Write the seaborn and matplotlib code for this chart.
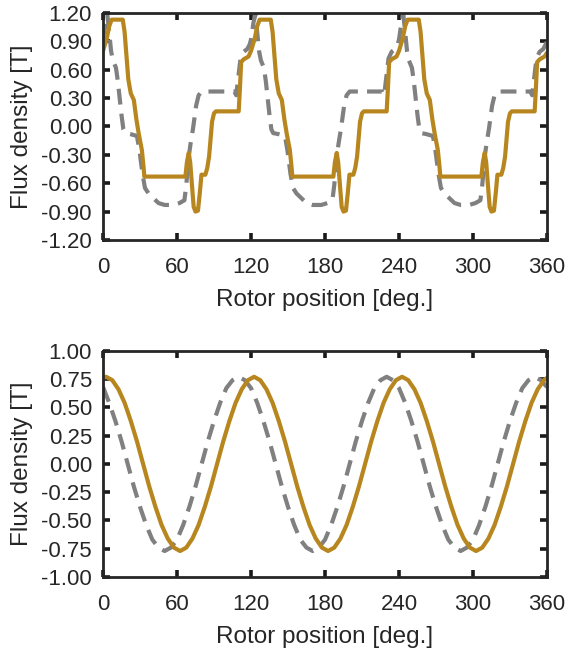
import matplotlib
matplotlib.use("Agg")
import matplotlib.pyplot as plt
import seaborn as sns
from matplotlib.ticker import FormatStrFormatter

# -----------------------------
# Data
# -----------------------------
# top: flux density, full traced waveform (solid) and reference (dashed)
top_solid_deg = [
    0, 3, 5, 7, 16, 17.5, 19, 20.5, 22.5, 25, 27, 29, 31.5, 32.8, 33.5,
    66.8, 68, 69.5, 70.7, 72, 73.5, 75, 77, 78.5, 79.8, 83, 84.5, 86, 88.4, 90, 91.5,
    110, 111, 112, 114, 118,
    120, 123, 125, 127, 136, 137.5, 139, 140.5, 142.5, 145, 147, 149, 151.5, 152.8, 153.5,
    186.8, 188, 189.5, 190.7, 192, 193.5, 195, 197, 198.5, 199.8, 203, 204.5, 206, 208.4, 210, 211.5,
    230, 231, 232, 234, 238,
    240, 243, 245, 247, 256, 257.5, 259, 260.5, 262.5, 265, 267, 269, 271.5, 272.8, 273.5,
    306.8, 308, 309.5, 310.7, 312, 313.5, 315, 317, 318.5, 319.8, 323, 324.5, 326, 328.4, 330, 331.5,
    350, 351, 352, 354, 358,
    360,
]
top_solid_val = [
    0.80, 0.93, 1.06, 1.13, 1.13, 1.00, 0.75, 0.50, 0.35, 0.28, 0.08, -0.08, -0.25, -0.42, -0.53,
    -0.53, -0.38, -0.28, -0.38, -0.60, -0.85, -0.90, -0.89, -0.70, -0.51, -0.51, -0.44, -0.32, 0.05, 0.14, 0.16,
    0.16, 0.40, 0.68, 0.71, 0.74,
    0.80, 0.93, 1.06, 1.13, 1.13, 1.00, 0.75, 0.50, 0.35, 0.28, 0.08, -0.08, -0.25, -0.42, -0.53,
    -0.53, -0.38, -0.28, -0.38, -0.60, -0.85, -0.90, -0.89, -0.70, -0.51, -0.51, -0.44, -0.32, 0.05, 0.14, 0.16,
    0.16, 0.40, 0.68, 0.71, 0.74,
    0.80, 0.93, 1.06, 1.13, 1.13, 1.00, 0.75, 0.50, 0.35, 0.28, 0.08, -0.08, -0.25, -0.42, -0.53,
    -0.53, -0.38, -0.28, -0.38, -0.60, -0.85, -0.90, -0.89, -0.70, -0.51, -0.51, -0.44, -0.32, 0.05, 0.14, 0.16,
    0.16, 0.40, 0.68, 0.71, 0.74,
    0.78,
]
top_dash_deg = [
    0, 2, 3.5, 5, 6.5, 8, 10.5, 12, 13.5, 15, 16.5, 18, 22, 27.5, 29.5, 32, 34, 37, 41, 45, 50, 57, 62, 66,
    67.5, 69.5, 71, 73, 75.5, 77.5, 80, 106.5, 108, 109.5, 111.5, 114, 117, 119,
    120, 122, 123.5, 125, 126.5, 128, 130.5, 132, 133.5, 135, 136.5, 138, 142, 147.5, 149.5, 152, 154, 157,
    161, 165, 170, 177, 182, 186,
    187.5, 189.5, 191, 193, 195.5, 197.5, 200, 226.5, 228, 229.5, 231.5, 234, 237, 239,
    240, 242, 243.5, 245, 246.5, 248, 250.5, 252, 253.5, 255, 256.5, 258, 262, 267.5, 269.5, 272, 274, 277,
    281, 285, 290, 297, 302, 306,
    307.5, 309.5, 311, 313, 315.5, 317.5, 320, 346.5, 348, 349.5, 351.5, 354, 357, 359,
    360,
]
top_dash_val = [
    0.92, 1.10, 1.18, 1.00, 0.80, 0.70, 0.62, 0.48, 0.30, 0.12, -0.03, -0.07, -0.08, -0.10, -0.25, -0.50,
    -0.65, -0.71, -0.76, -0.81, -0.83, -0.83, -0.81, -0.78,
    -0.62, -0.32, -0.18, -0.02, 0.22, 0.33, 0.37, 0.37, 0.33, 0.50, 0.72, 0.79, 0.82, 0.87,
    0.92, 1.10, 1.18, 1.00, 0.80, 0.70, 0.62, 0.48, 0.30, 0.12, -0.03, -0.07, -0.08, -0.10, -0.25, -0.50,
    -0.65, -0.71, -0.76, -0.81, -0.83, -0.83, -0.81, -0.78,
    -0.62, -0.32, -0.18, -0.02, 0.22, 0.33, 0.37, 0.37, 0.33, 0.50, 0.72, 0.79, 0.82, 0.87,
    0.92, 1.10, 1.18, 1.00, 0.80, 0.70, 0.62, 0.48, 0.30, 0.12, -0.03, -0.07, -0.08, -0.10, -0.25, -0.50,
    -0.65, -0.71, -0.76, -0.81, -0.83, -0.83, -0.81, -0.78,
    -0.62, -0.32, -0.18, -0.02, 0.22, 0.33, 0.37, 0.37, 0.33, 0.50, 0.72, 0.79, 0.82, 0.87,
    0.90,
]

# bottom: fundamental component (solid sampled at its peaks, dashed every 5 deg)
bottom_solid_deg = [
    0, 2.5, 7.5, 12.5, 17.5, 22.5, 27.5, 32.5, 37.5, 42.5, 47.5, 52.5, 57.5,
    62.5, 67.5, 72.5, 77.5, 82.5, 87.5, 92.5, 97.5, 102.5, 107.5, 112.5, 117.5,
    122.5, 127.5, 132.5, 137.5, 142.5, 147.5, 152.5, 157.5, 162.5, 167.5, 172.5, 177.5,
    182.5, 187.5, 192.5, 197.5, 202.5, 207.5, 212.5, 217.5, 222.5, 227.5, 232.5, 237.5,
    242.5, 247.5, 252.5, 257.5, 262.5, 267.5, 272.5, 277.5, 282.5, 287.5, 292.5, 297.5,
    302.5, 307.5, 312.5, 317.5, 322.5, 327.5, 332.5, 337.5, 342.5, 347.5, 352.5, 357.5,
    360,
]
bottom_solid = [
    0.76,
    0.77, 0.74, 0.66, 0.54, 0.38, 0.20, 0.00, -0.20, -0.38, -0.54, -0.66, -0.74,
    -0.77, -0.74, -0.66, -0.54, -0.38, -0.20, 0.00, 0.20, 0.38, 0.54, 0.66, 0.74,
    0.77, 0.74, 0.66, 0.54, 0.38, 0.20, 0.00, -0.20, -0.38, -0.54, -0.66, -0.74,
    -0.77, -0.74, -0.66, -0.54, -0.38, -0.20, 0.00, 0.20, 0.38, 0.54, 0.66, 0.74,
    0.77, 0.74, 0.66, 0.54, 0.38, 0.20, 0.00, -0.20, -0.38, -0.54, -0.66, -0.74,
    -0.77, -0.74, -0.66, -0.54, -0.38, -0.20, 0.00, 0.20, 0.38, 0.54, 0.66, 0.74,
    0.76,
]
bottom_dash_deg = [
    0, 5, 10, 15, 20, 25, 30, 35, 40, 45, 50, 55, 60, 65, 70, 75, 80, 85, 90, 95, 100, 105, 110, 115,
    120, 125, 130, 135, 140, 145, 150, 155, 160, 165, 170, 175, 180, 185, 190, 195, 200, 205, 210, 215,
    220, 225, 230, 235, 240, 245, 250, 255, 260, 265, 270, 275, 280, 285, 290, 295, 300, 305, 310, 315,
    320, 325, 330, 335, 340, 345, 350, 355, 360,
]
bottom_dash = [
    0.68, 0.54, 0.38, 0.20, 0.00, -0.20, -0.38, -0.54, -0.67, -0.74, -0.77, -0.74,
    -0.67, -0.54, -0.38, -0.20, 0.00, 0.20, 0.38, 0.54, 0.67, 0.74, 0.77, 0.74,
    0.67, 0.54, 0.38, 0.20, 0.00, -0.20, -0.38, -0.54, -0.67, -0.74, -0.77, -0.74,
    -0.67, -0.54, -0.38, -0.20, 0.00, 0.20, 0.38, 0.54, 0.67, 0.74, 0.77, 0.74,
    0.67, 0.54, 0.38, 0.20, 0.00, -0.20, -0.38, -0.54, -0.67, -0.74, -0.77, -0.74,
    -0.67, -0.54, -0.38, -0.20, 0.00, 0.20, 0.38, 0.54, 0.67, 0.74, 0.77, 0.74,
    0.68,
]

x_ticks = [0, 60, 120, 180, 240, 300, 360]
top_yticks = [-1.2, -0.9, -0.6, -0.3, 0.0, 0.3, 0.6, 0.9, 1.2]
bottom_yticks = [-1.0, -0.75, -0.5, -0.25, 0.0, 0.25, 0.5, 0.75, 1.0]

# -----------------------------
# Style
# -----------------------------
sns.set_theme(style="ticks")
plt.rcParams["font.family"] = ["Liberation Sans", "DejaVu Sans"]
plt.rcParams["axes.unicode_minus"] = False

ORANGE = "#B8861E"
GRAY = "#808080"
INK = "#262626"


def style_axes(ax, yticks, ylim):
    ax.set_xlim(0, 360)
    ax.set_ylim(*ylim)
    ax.set_xticks(x_ticks)
    ax.set_yticks(yticks)
    ax.yaxis.set_major_formatter(FormatStrFormatter("%.2f"))
    ax.tick_params(direction="in", top=True, right=True, length=5, width=2.6,
                   color="#1a1a1a", labelcolor=INK, labelsize=16)
    ax.tick_params(axis="x", pad=12)
    ax.tick_params(axis="y", pad=8)
    for s in ax.spines.values():
        s.set_linewidth(2.0)
        s.set_color(INK)
    ax.set_xlabel("Rotor position [deg.]", fontsize=17.5, color=INK, labelpad=8)
    ax.set_ylabel("Flux density [T]", fontsize=17.5, color=INK, labelpad=6)


fig = plt.figure(figsize=(5.67, 6.52), dpi=100)
ax1 = fig.add_axes([0.1817, 0.632, 0.7830, 0.348])
ax2 = fig.add_axes([0.1817, 0.115, 0.7830, 0.347])

sns.lineplot(x=top_dash_deg, y=top_dash_val, ax=ax1, color=GRAY, linewidth=3.0, estimator=None)
ax1.lines[-1].set_dashes([3.8, 2.2])
sns.lineplot(x=top_solid_deg, y=top_solid_val, ax=ax1, color=ORANGE, linewidth=3.0, estimator=None)
style_axes(ax1, top_yticks, (-1.2, 1.2))

sns.lineplot(x=bottom_dash_deg, y=bottom_dash, ax=ax2, color=GRAY, linewidth=3.0, estimator=None)
ax2.lines[-1].set_dashes([3.8, 2.2])
sns.lineplot(x=bottom_solid_deg, y=bottom_solid, ax=ax2, color=ORANGE, linewidth=3.0, estimator=None)
style_axes(ax2, bottom_yticks, (-1.0, 1.0))

fig.savefig("out.png", dpi=100)
